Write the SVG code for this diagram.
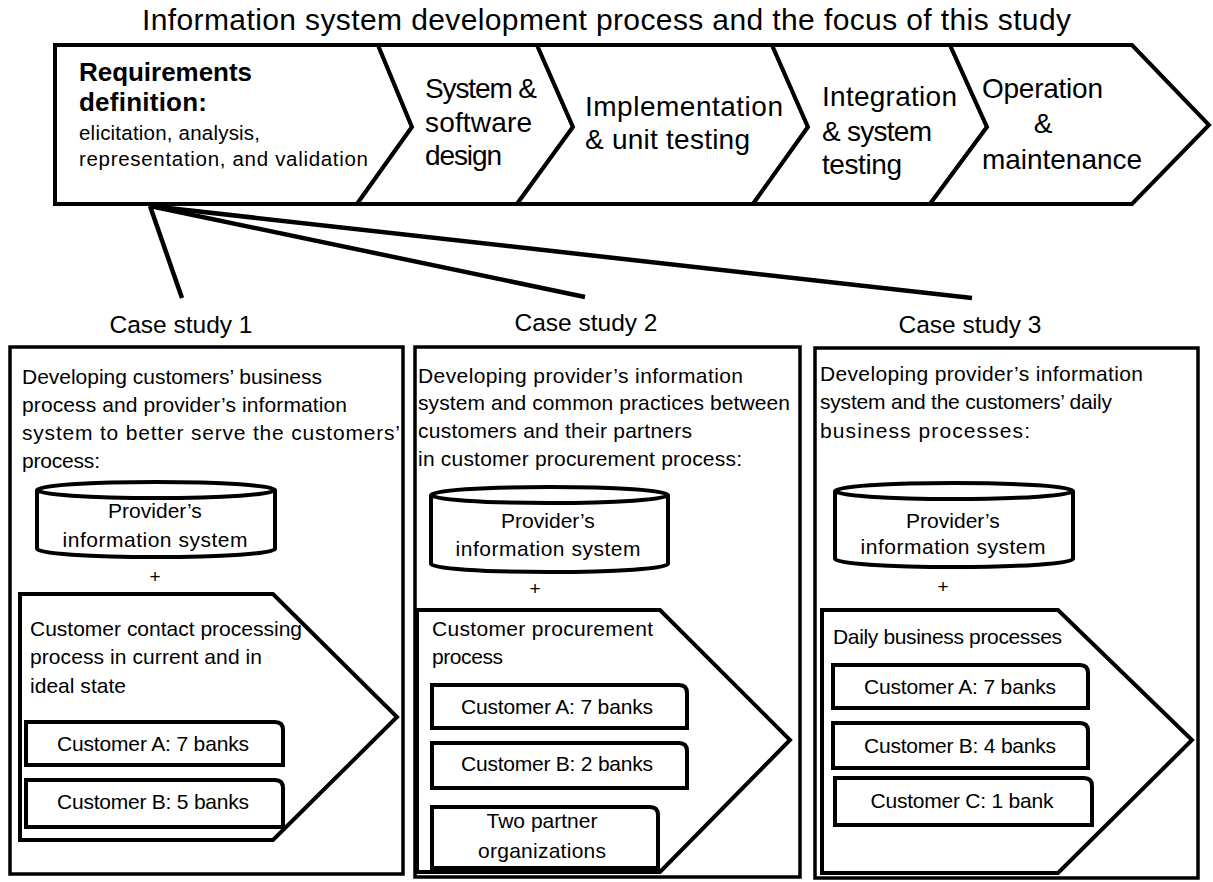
<svg xmlns="http://www.w3.org/2000/svg" width="1213" height="882" viewBox="0 0 1213 882">
  <style>
    text { font-family: "Liberation Sans", Arial, sans-serif; fill: #000; }
    .title { font-size: 30px; }
    .step { font-size: 28px; }
    .bold { font-size: 26px; font-weight: bold; }
    .small { font-size: 20.5px; }
    .case { font-size: 24.5px; }
    .body { font-size: 21px; }
    .lbl { font-size: 21px; text-anchor: middle; }
    .plus { font-size: 19px; text-anchor: middle; }
    .shape { fill: #fff; stroke: #000; stroke-width: 4; stroke-linejoin: miter; }
    .frame { fill: #fff; stroke: #000; stroke-width: 3.5; }
    .conn { stroke: #000; stroke-width: 4.5; fill: none; }
  </style>
  <rect width="1213" height="882" fill="#fff"/>

  <text class="title" x="142" y="30" textLength="929">Information system development process and the focus of this study</text>

  <!-- process chevron band -->
  <g id="step-requirements">
    <polygon class="shape" points="55,45 378,45 412,127 357,204 55,204"/>
    <text class="bold" x="79" y="81" textLength="173">Requirements</text>
    <text class="bold" x="79" y="111" textLength="128">definition:</text>
    <text class="small" x="79" y="140" textLength="181">elicitation, analysis,</text>
    <text class="small" x="79" y="166" textLength="289">representation,  and validation</text>
  </g>
  <g id="step-design">
    <polygon class="shape" points="378,45 537,45 573,127 517,204 357,204 412,127"/>
    <text class="step" x="425" y="98" textLength="112">System &amp;</text>
    <text class="step" x="425" y="132" textLength="107">software</text>
    <text class="step" x="425" y="165" textLength="77">design</text>
  </g>
  <g id="step-implementation">
    <polygon class="shape" points="537,45 772,45 808,127 753,204 517,204 573,127"/>
    <text class="step" x="585" y="116" textLength="198">Implementation</text>
    <text class="step" x="585" y="149" textLength="165">&amp; unit testing</text>
  </g>
  <g id="step-integration">
    <polygon class="shape" points="772,45 950,45 987,127 930,204 753,204 808,127"/>
    <text class="step" x="822" y="106" textLength="135">Integration</text>
    <text class="step" x="822" y="141" textLength="110">&amp; system</text>
    <text class="step" x="822" y="174" textLength="80">testing</text>
  </g>
  <g id="step-operation">
    <polygon class="shape" points="950,45 1132,45 1209,125 1132,204 930,204 987,127"/>
    <text class="step" x="982" y="98" textLength="121">Operation</text>
    <text class="step" x="1043" y="133" text-anchor="middle">&amp;</text>
    <text class="step" x="982" y="169" textLength="160">maintenance</text>
  </g>

  <!-- links from the requirements phase to the case studies -->
  <g id="connectors">
    <line class="conn" x1="150" y1="206" x2="182" y2="298"/>
    <line class="conn" x1="150" y1="206" x2="585" y2="297"/>
    <line class="conn" x1="150" y1="206" x2="972" y2="298"/>
  </g>

  <!-- case study 1 -->
  <g id="case1">
    <text class="case" x="181" y="333" text-anchor="middle">Case study 1</text>
    <rect class="frame" x="10" y="347" width="393" height="527"/>
    <text class="body" x="22" y="384" textLength="300">Developing customers’ business</text>
    <text class="body" x="22" y="412" textLength="325">process and provider’s information</text>
    <text class="body" x="22" y="440" textLength="378">system to better serve the customers’</text>
    <text class="body" x="22" y="468" textLength="78">process:</text>
    <path class="shape" d="M37,490 A119,8 0 0 1 275,490 V549 A119,8 0 0 1 37,549 Z M37,490 A119,8 0 0 0 275,490"/>
    <text class="lbl" x="155" y="518">Provider’s</text>
    <text class="lbl" x="155" y="547" textLength="185">information system</text>
    <text class="plus" x="155" y="583">+</text>
    <polygon class="shape" points="20,594 273,594 397,717 273,840 20,840"/>
    <text class="body" x="30" y="636" textLength="272">Customer contact processing</text>
    <text class="body" x="30" y="664" textLength="232">process in current and in</text>
    <text class="body" x="30" y="693" textLength="96">ideal state</text>
    <path class="shape" d="M26,722 H275 Q283,722 283,730 V765 H26 Z"/>
    <text class="lbl" x="153" y="751" textLength="192">Customer A: 7 banks</text>
    <path class="shape" d="M26,780 H275 Q283,780 283,788 V827 H26 Z"/>
    <text class="lbl" x="153" y="809" textLength="192">Customer B: 5 banks</text>
  </g>

  <!-- case study 2 -->
  <g id="case2">
    <text class="case" x="586" y="331" text-anchor="middle">Case study 2</text>
    <rect class="frame" x="415" y="347" width="385" height="530"/>
    <text class="body" x="418" y="383" textLength="325">Developing provider’s information</text>
    <text class="body" x="418" y="410" textLength="372">system and common practices between</text>
    <text class="body" x="418" y="438" textLength="274">customers and their  partners</text>
    <text class="body" x="418" y="466" textLength="324">in customer procurement process:</text>
    <path class="shape" d="M431,495 A118.5,8 0 0 1 668,495 V564 A118.5,8 0 0 1 431,564 Z M431,495 A118.5,8 0 0 0 668,495"/>
    <text class="lbl" x="548" y="528">Provider’s</text>
    <text class="lbl" x="548" y="556" textLength="185">information system</text>
    <text class="plus" x="535" y="595">+</text>
    <polygon class="shape" points="417,610 660,610 790,740 660,872 417,872"/>
    <text class="body" x="432" y="636" textLength="221">Customer procurement</text>
    <text class="body" x="432" y="664" textLength="71">process</text>
    <path class="shape" d="M432,685 H679 Q687,685 687,693 V728 H432 Z"/>
    <text class="lbl" x="557" y="714" textLength="192">Customer A: 7 banks</text>
    <path class="shape" d="M432,743 H679 Q687,743 687,751 V788 H432 Z"/>
    <text class="lbl" x="557" y="771" textLength="192">Customer B: 2 banks</text>
    <path class="shape" d="M432,807 H650 Q658,807 658,815 V868 H432 Z"/>
    <text class="lbl" x="542" y="828" textLength="111">Two partner</text>
    <text class="lbl" x="542" y="858" textLength="128">organizations</text>
  </g>

  <!-- case study 3 -->
  <g id="case3">
    <text class="case" x="970" y="333" text-anchor="middle">Case study 3</text>
    <rect class="frame" x="815" y="348" width="383" height="530"/>
    <text class="body" x="820" y="381" textLength="323">Developing provider’s information</text>
    <text class="body" x="820" y="409" textLength="292">system and the customers’ daily</text>
    <text class="body" x="820" y="438" textLength="210">business processes:</text>
    <path class="shape" d="M835,491 A119,8 0 0 1 1073,491 V559 A119,8 0 0 1 835,559 Z M835,491 A119,8 0 0 0 1073,491"/>
    <text class="lbl" x="953" y="528">Provider’s</text>
    <text class="lbl" x="953" y="554" textLength="185">information system</text>
    <text class="plus" x="943" y="593">+</text>
    <polygon class="shape" points="822,610 1058,610 1192,740 1058,873 822,873"/>
    <text class="body" x="833" y="644" textLength="229">Daily business processes</text>
    <path class="shape" d="M833,665 H1080 Q1088,665 1088,673 V708 H833 Z"/>
    <text class="lbl" x="960" y="694" textLength="192">Customer A: 7 banks</text>
    <path class="shape" d="M833,723 H1080 Q1088,723 1088,731 V768 H833 Z"/>
    <text class="lbl" x="960" y="753" textLength="192">Customer B: 4 banks</text>
    <path class="shape" d="M835,778 H1084 Q1092,778 1092,786 V825 H835 Z"/>
    <text class="lbl" x="962" y="808" textLength="183">Customer C: 1 bank</text>
  </g>
</svg>
